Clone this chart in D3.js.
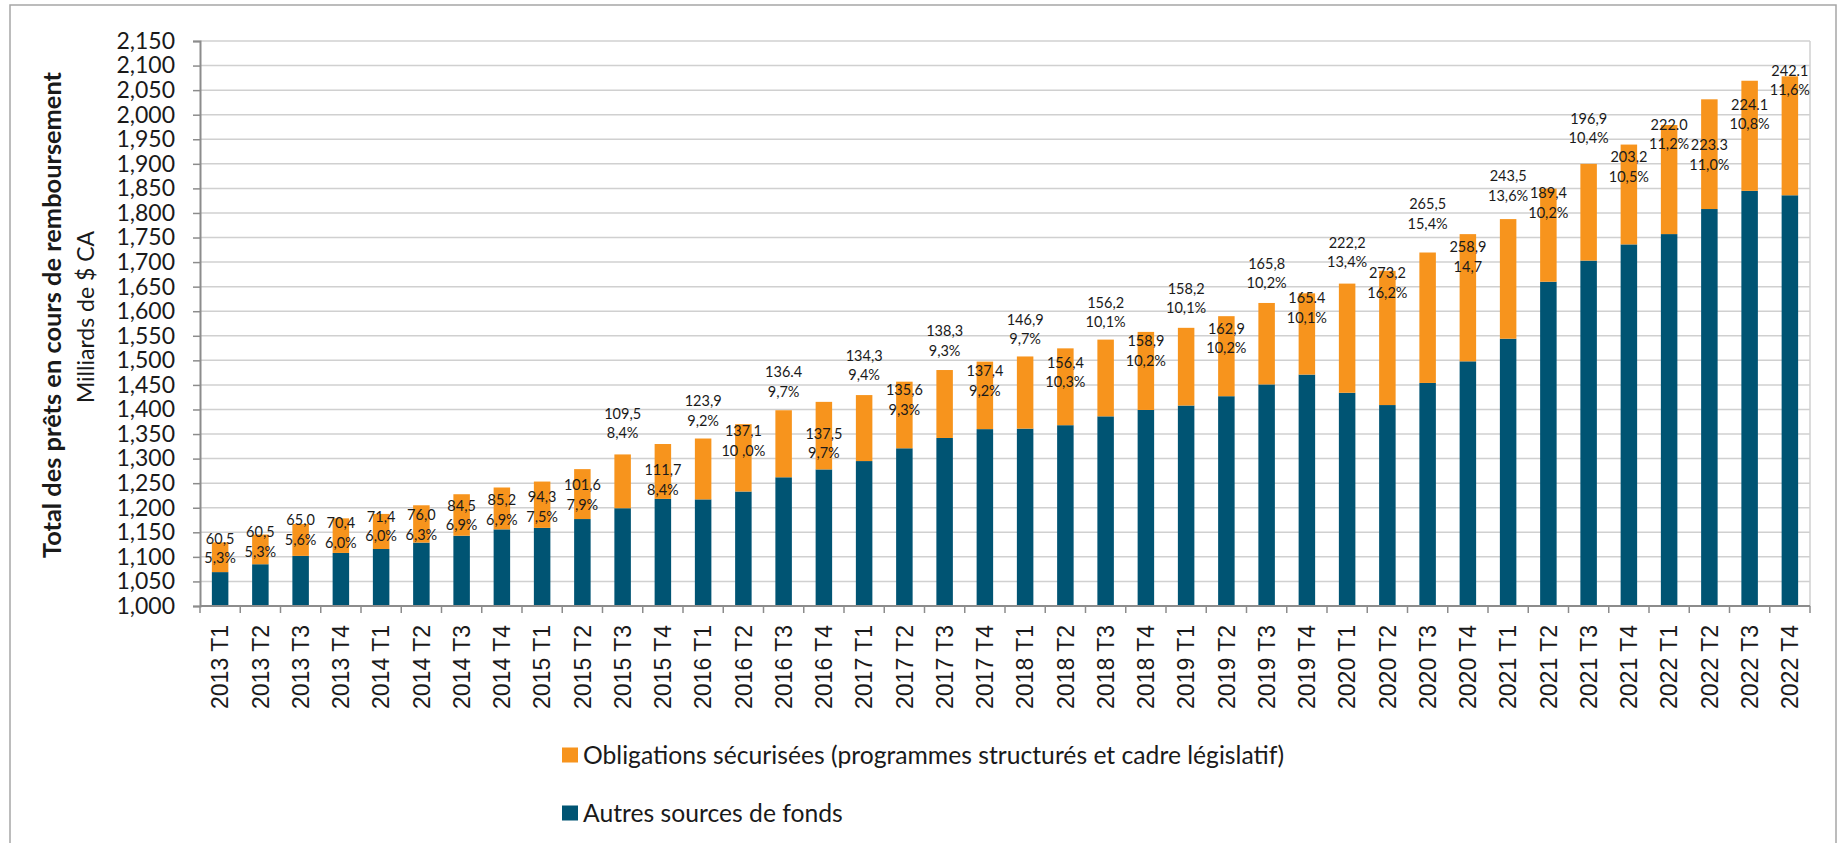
<!DOCTYPE html>
<html>
<head>
<meta charset="utf-8">
<script src="https://cdn.jsdelivr.net/npm/d3@7"></script>
<style>
    body { margin: 0; background: #fff; }
    svg { display: block; }
    .tick-y { font-family: Lato, sans-serif; font-size: 23px; fill: #1a1a1a; }
    .tick-x { font-family: "Liberation Sans", Arial, sans-serif; font-size: 23px; fill: #1a1a1a; }
    .bar-label { font-family: Lato, sans-serif; font-size: 14.5px; fill: #1a1a1a; }
    .legend-text { font-family: Lato, sans-serif; font-size: 24.7px; fill: #1a1a1a; }
</style>
</head>
<body>
<div id="chart"></div>
<script>
const quarters = [
    "2013 T1", "2013 T2", "2013 T3", "2013 T4",
    "2014 T1", "2014 T2", "2014 T3", "2014 T4",
    "2015 T1", "2015 T2", "2015 T3", "2015 T4",
    "2016 T1", "2016 T2", "2016 T3", "2016 T4",
    "2017 T1", "2017 T2", "2017 T3", "2017 T4",
    "2018 T1", "2018 T2", "2018 T3", "2018 T4",
    "2019 T1", "2019 T2", "2019 T3", "2019 T4",
    "2020 T1", "2020 T2", "2020 T3", "2020 T4",
    "2021 T1", "2021 T2", "2021 T3", "2021 T4",
    "2022 T1", "2022 T2", "2022 T3", "2022 T4",
];

// Autres sources de fonds (G$)
const autresSources = [
    1069, 1085, 1102, 1108, 1116, 1129, 1143, 1156,
    1159, 1177, 1199, 1218, 1217, 1233, 1262, 1278,
    1295, 1321, 1342, 1360, 1361, 1368, 1386, 1399,
    1408, 1427, 1451, 1471, 1434, 1409, 1454, 1498,
    1544, 1660, 1703, 1736, 1757, 1808, 1845, 1836,
];

// Obligations sécurisées (G$)
const obligations = [
    60.5, 60.5, 65.0, 70.4, 71.4, 76.0, 84.5, 85.2,
    94.3, 101.6, 109.5, 111.7, 123.9, 137.1, 136.4, 137.5,
    134.3, 135.6, 138.3, 137.4, 146.9, 156.4, 156.2, 158.9,
    158.2, 162.9, 165.8, 165.4, 222.2, 273.2, 265.5, 258.9,
    243.5, 189.4, 196.9, 203.2, 222.0, 223.3, 224.1, 242.1,
];

// label texts as printed on the chart
const valueLabels = [
    "60,5", "60,5", "65,0", "70,4", "71,4", "76,0", "84,5", "85,2",
    "94,3", "101,6", "109,5", "111,7", "123,9", "137,1", "136.4", "137,5",
    "134,3", "135,6", "138,3", "137,4", "146,9", "156,4", "156,2", "158,9",
    "158,2", "162,9", "165,8", "165.4", "222,2", "273,2", "265,5", "258,9",
    "243,5", "189,4", "196,9", "203,2", "222.0", "223.3", "224.1", "242.1",
];
const shareLabels = [
    "5,3%", "5,3%", "5,6%", "6,0%", "6,0%", "6,3%", "6,9%", "6,9%",
    "7,5%", "7,9%", "8,4%", "8,4%", "9,2%", "10 ,0%", "9,7%", "9,7%",
    "9,4%", "9,3%", "9,3%", "9,2%", "9,7%", "10,3%", "10,1%", "10,2%",
    "10,1%", "10,2%", "10,2%", "10,1%", "13,4%", "16,2%", "15,4%", "14,7",
    "13,6%", "10,2%", "10,4%", "10,5%", "11,2%", "11,0%", "10,8%", "11,6%",
];
// level (G$) at which each label's first line sits
const labelLevels = [
    1137, 1151, 1175, 1169, 1182, 1185, 1204, 1216,
    1222, 1246, 1392, 1277, 1417, 1356, 1476, 1351,
    1510, 1440, 1560, 1478, 1583, 1496, 1618, 1539,
    1646, 1565, 1697, 1627, 1740, 1678, 1818, 1731,
    1875, 1841, 1992, 1914, 1980, 1938, 2021, 2090,
];

const yTicks = d3.range(1000, 2151, 50);

const seriesNames = [
    "Obligations sécurisées (programmes structurés et cadre législatif)",
    "Autres sources de fonds",
];
const colors = {autres: "#005473", obligations: "#F7941D"};

const width = 1845, height = 843;
const plot = {left: 200, right: 1810, top: 41, bottom: 606};

const svg = d3.select("#chart").append("svg")
    .attr("width", width)
    .attr("height", height);

// outer chart border
svg.append("rect")
    .attr("x", 10).attr("y", 5)
    .attr("width", 1826).attr("height", 860)
    .attr("fill", "none")
    .attr("stroke", "#a6a6a6")
    .attr("stroke-width", 1.5);

const x = d3.scaleBand()
    .domain(quarters)
    .range([plot.left, plot.right])
    .paddingInner(0.59)
    .paddingOuter(0.295);

const xEdge = d3.scaleLinear()
    .domain([0, quarters.length])
    .range([plot.left, plot.right]);

const y = d3.scaleLinear()
    .domain([1000, 2150])
    .range([plot.bottom, plot.top]);

// gridlines
svg.append("g")
    .selectAll("line")
    .data(yTicks)
    .enter().append("line")
    .attr("x1", plot.left).attr("x2", plot.right)
    .attr("y1", d => y(d)).attr("y2", d => y(d))
    .attr("stroke", "#d0d0d0")
    .attr("stroke-width", 1.5);

// plot area right border
svg.append("line")
    .attr("x1", plot.right).attr("x2", plot.right)
    .attr("y1", plot.top).attr("y2", plot.bottom)
    .attr("stroke", "#d0d0d0")
    .attr("stroke-width", 1.5);

const data = quarters.map((q, i) => ({
    q: q,
    autres: autresSources[i],
    obligations: obligations[i],
    value: valueLabels[i],
    share: shareLabels[i],
    level: labelLevels[i],
}));

const stack = d3.stack().keys(["autres", "obligations"]);
const layers = stack(data);

// bars
svg.append("g")
    .selectAll("g")
    .data(layers)
    .enter().append("g")
    .attr("fill", d => colors[d.key])
    .selectAll("rect")
    .data(d => d)
    .enter().append("rect")
    .attr("x", d => x(d.data.q))
    .attr("width", x.bandwidth())
    .attr("y", d => y(d[1]))
    .attr("height", d => y(Math.max(d[0], 1000)) - y(d[1]));

// y axis
const yAxis = svg.append("g")
    .attr("transform", `translate(${plot.left},0)`)
    .call(d3.axisLeft(y).tickValues(yTicks).tickFormat(d3.format(",")).tickSize(7).tickPadding(18));
yAxis.select(".domain").attr("stroke", "#8c8c8c").attr("stroke-width", 2);
yAxis.selectAll(".tick line").attr("stroke", "#8c8c8c").attr("stroke-width", 1.5);
yAxis.selectAll(".tick text").attr("class", "tick-y");
yAxis.attr("font-size", null).attr("font-family", null);

// x axis
svg.append("line")
    .attr("x1", plot.left).attr("x2", plot.right)
    .attr("y1", plot.bottom).attr("y2", plot.bottom)
    .attr("stroke", "#8c8c8c")
    .attr("stroke-width", 2);

svg.append("g")
    .selectAll("line")
    .data(d3.range(quarters.length + 1))
    .enter().append("line")
    .attr("x1", d => xEdge(d)).attr("x2", d => xEdge(d))
    .attr("y1", plot.bottom).attr("y2", plot.bottom + 7)
    .attr("stroke", "#8c8c8c")
    .attr("stroke-width", 1.5);

svg.append("g")
    .selectAll("text")
    .data(quarters)
    .enter().append("text")
    .attr("class", "tick-x")
    .attr("transform", d => `translate(${x(d) + x.bandwidth() / 2},${plot.bottom + 19}) rotate(-90)`)
    .attr("text-anchor", "end")
    .attr("dy", "0.36em")
    .text(d => d);

// data labels
const labels = svg.append("g")
    .selectAll("text")
    .data(data)
    .enter().append("text")
    .attr("class", "bar-label")
    .attr("text-anchor", "middle")
    .attr("x", d => x(d.q) + x.bandwidth() / 2)
    .attr("y", d => y(d.level))
    .attr("dy", "0.36em");
labels.append("tspan").text(d => d.value);
labels.append("tspan")
    .attr("x", d => x(d.q) + x.bandwidth() / 2)
    .attr("dy", 19.5)
    .text(d => d.share);

// y axis title
svg.append("text")
    .attr("transform", `translate(52,315) rotate(-90)`)
    .attr("text-anchor", "middle")
    .attr("dy", "0.36em")
    .attr("font-family", "Lato, sans-serif")
    .attr("font-weight", "bold")
    .attr("font-size", 25.4)
    .attr("fill", "#1a1a1a")
    .text("Total des prêts en cours de remboursement");

svg.append("text")
    .attr("transform", `translate(86,317) rotate(-90)`)
    .attr("text-anchor", "middle")
    .attr("dy", "0.36em")
    .attr("font-family", "Lato, sans-serif")
    .attr("font-size", 23)
    .attr("fill", "#1a1a1a")
    .text("Milliards de $ CA");

// legend
const legend = svg.append("g")
    .selectAll("g")
    .data(seriesNames)
    .enter().append("g")
    .attr("transform", (d, i) => `translate(562,${755 + i * 58})`);

legend.append("rect")
    .attr("x", 0).attr("y", -7.5)
    .attr("width", 16).attr("height", 15)
    .attr("fill", (d, i) => i === 0 ? colors.obligations : colors.autres);

legend.append("text")
    .attr("class", "legend-text")
    .attr("x", 21)
    .attr("dy", "0.36em")
    .text(d => d);
</script>
</body>
</html>
